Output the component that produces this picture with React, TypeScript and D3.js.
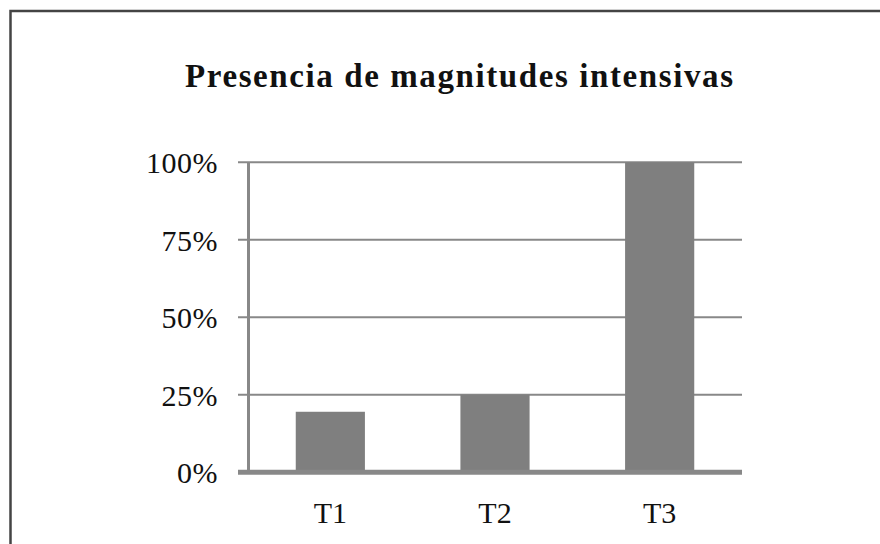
import React, { useRef, useEffect } from 'react';
import * as d3 from 'd3';

const categories = ['T1', 'T2', 'T3'];
const values = [19.5, 25, 100];
const yTicks = [0, 25, 50, 75, 100];
const title = 'Presencia de magnitudes intensivas';

function BarChart() {
  const svgRef = useRef<SVGSVGElement>(null);

  useEffect(() => {
    const svg = d3.select(svgRef.current);
    svg.selectAll('*').remove();

    const width = 880;
    const height = 544;
    const font = '"Liberation Serif", "Times New Roman", serif';

    svg.attr('width', width).attr('height', height);

    svg.append('rect')
      .attr('width', width)
      .attr('height', height)
      .attr('fill', 'white');

    // outer frame (runs off the right and bottom)
    svg.append('rect')
      .attr('x', 10.5)
      .attr('y', 11)
      .attr('width', 920)
      .attr('height', 600)
      .attr('fill', 'none')
      .attr('stroke', '#444')
      .attr('stroke-width', 2.5);

    const x = d3.scaleBand()
      .domain(categories)
      .range([248, 742])
      .paddingInner(0.58)
      .paddingOuter(0.29);

    const y = d3.scaleLinear()
      .domain([0, 100])
      .range([472.2, 162.3]);

    svg.append('text')
      .attr('x', 459)
      .attr('y', 87)
      .attr('text-anchor', 'middle')
      .attr('textLength', 548)
      .attr('lengthAdjust', 'spacing')
      .style('font-family', font)
      .style('font-weight', 'bold')
      .style('font-size', '33px')
      .attr('fill', '#111')
      .text(title);

    // gridlines
    svg.append('g')
      .selectAll('line')
      .data(yTicks.filter(d => d > 0))
      .enter()
      .append('line')
      .attr('x1', 238)
      .attr('x2', 742)
      .attr('y1', d => y(d))
      .attr('y2', d => y(d))
      .attr('stroke', '#888')
      .attr('stroke-width', 2);

    // bars
    svg.append('g')
      .selectAll('rect')
      .data(values)
      .enter()
      .append('rect')
      .attr('x', (d, i) => x(categories[i]) as number)
      .attr('width', x.bandwidth())
      .attr('y', d => y(d))
      .attr('height', d => y(0) - y(d))
      .attr('fill', '#7f7f7f');

    // left axis
    svg.append('line')
      .attr('x1', 248.5)
      .attr('x2', 248.5)
      .attr('y1', y(100))
      .attr('y2', y(0))
      .attr('stroke', '#888')
      .attr('stroke-width', 3);

    // zero line
    svg.append('line')
      .attr('x1', 238)
      .attr('x2', 742)
      .attr('y1', y(0))
      .attr('y2', y(0))
      .attr('stroke', '#888')
      .attr('stroke-width', 5);

    // y tick labels
    svg.append('g')
      .selectAll('text')
      .data(yTicks)
      .enter()
      .append('text')
      .attr('x', 218)
      .attr('y', d => y(d))
      .attr('dy', '0.36em')
      .attr('text-anchor', 'end')
      .style('font-family', font)
      .style('font-size', '30px')
      .style('letter-spacing', '0.5px')
      .attr('fill', '#111')
      .text(d => d + '%');

    // x labels
    svg.append('g')
      .selectAll('text')
      .data(categories)
      .enter()
      .append('text')
      .attr('x', d => (x(d) as number) + x.bandwidth() / 2)
      .attr('y', 523)
      .attr('text-anchor', 'middle')
      .style('font-family', font)
      .style('font-size', '30px')
      .attr('fill', '#111')
      .text(d => d);
  }, []);

  return <svg ref={svgRef} style={{ position: 'absolute', left: 0, top: 0 }}></svg>;
}

export default function App() {
  return <BarChart />;
}
